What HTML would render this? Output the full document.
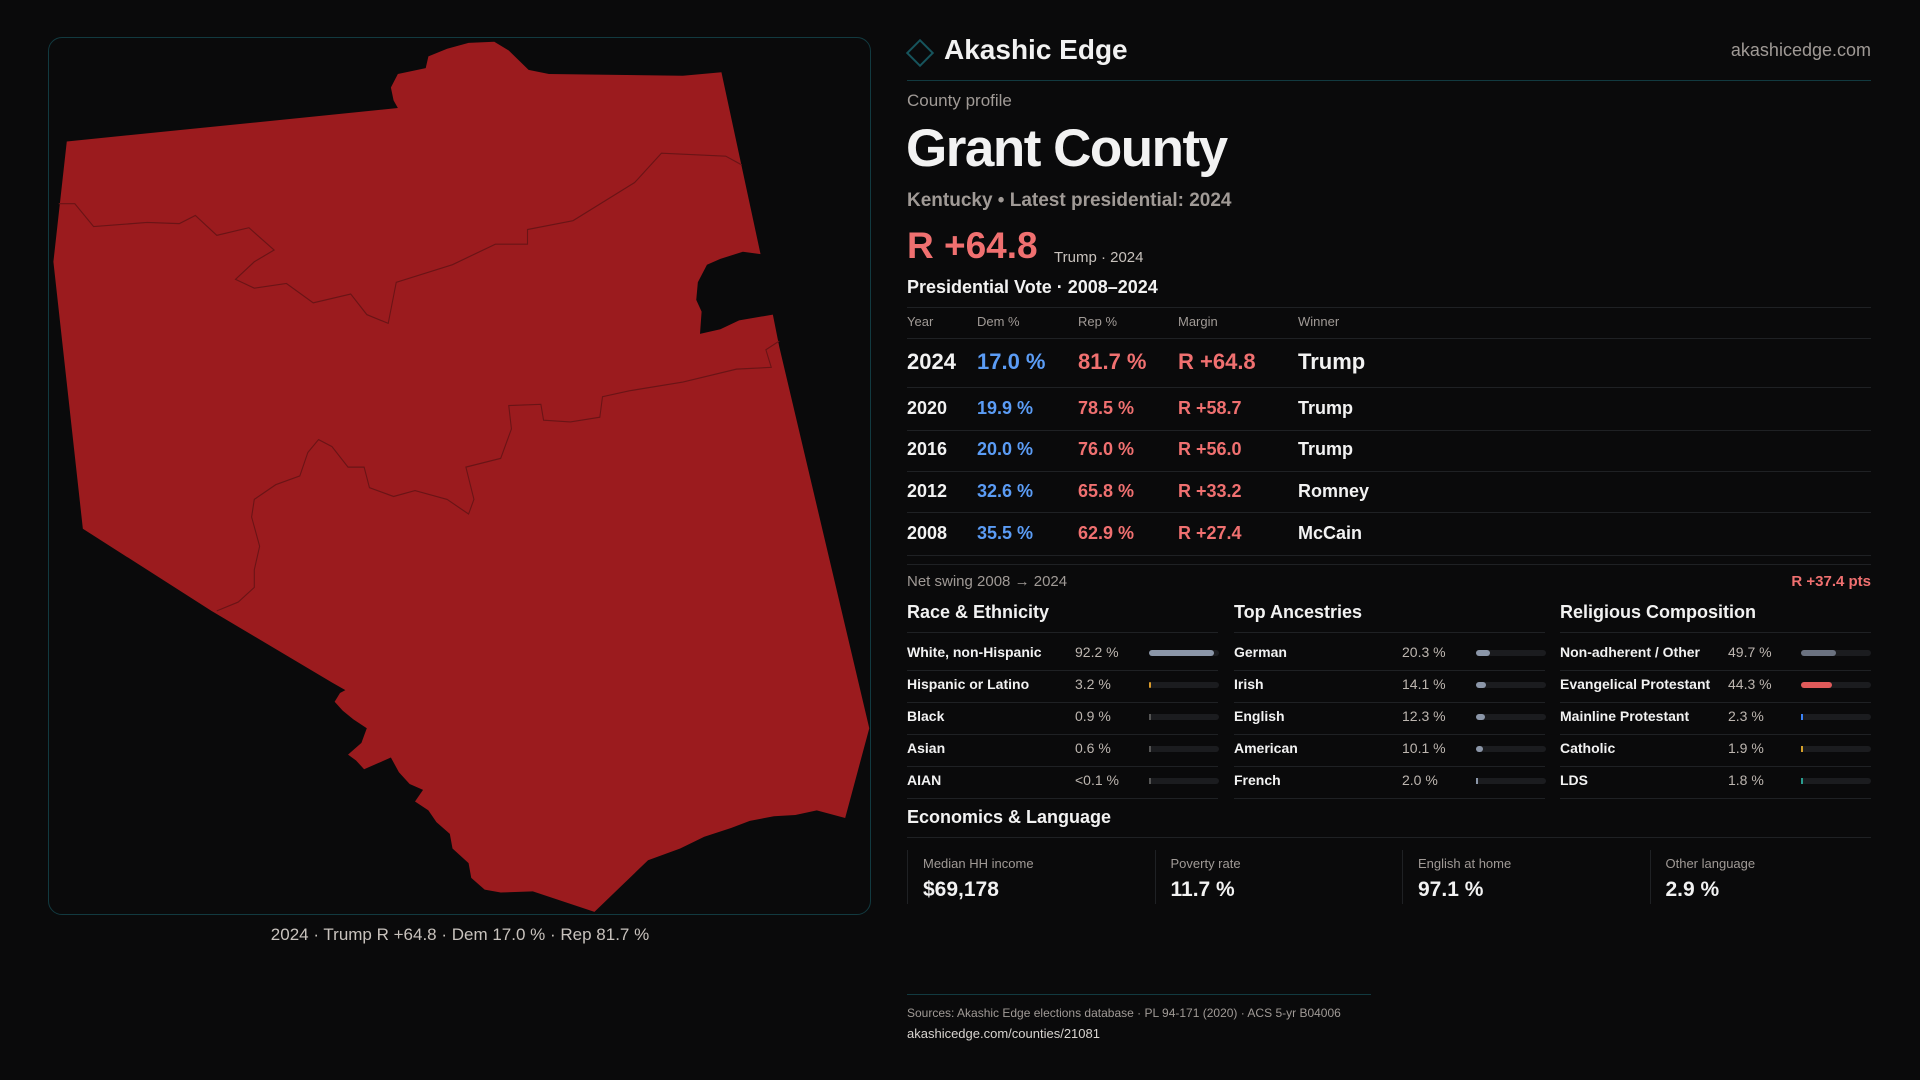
<!DOCTYPE html>
<html><head><meta charset="utf-8"><style>
*{margin:0;padding:0;box-sizing:border-box}
body{width:1920px;height:1080px;background:#0a0a0b;color:#f2f2f2;font-family:"Liberation Sans",sans-serif;position:relative;overflow:hidden}
.a{position:absolute;white-space:nowrap}
.hl{position:absolute;height:1px;background:#1f2124}
.blue{color:#5b9cf5}.red{color:#f07070}.mut{color:#a09a96}
.bar-track{position:absolute;height:6px;border-radius:3px;background:#1b1c1f}
.bar-fill{position:absolute;left:0;top:0;height:6px;border-radius:3px}
</style></head><body>
<div class="a" style="left:48px;top:37px;width:823px;height:878px;border:1px solid #123a40;border-radius:14px"></div>
<svg style="position:absolute;left:40px;top:30px" width="840" height="920" viewBox="0 0 1568 1568" preserveAspectRatio="none">
<polygon fill="#9b1b1e" points="50,190 668,133 660,120 655,98 668,75 720,65 725,45 760,32 800,22 848,20 875,35 912,68 950,75 1200,78 1272,72 1345,382 1312,378 1270,390 1245,400 1228,430 1225,460 1235,480 1232,518 1270,510 1305,495 1368,485 1380,540 1548,1190 1503,1343 1450,1330 1410,1338 1370,1340 1325,1348 1290,1360 1240,1375 1195,1395 1135,1415 1035,1503 920,1468 860,1470 830,1465 805,1445 800,1420 770,1395 765,1370 740,1350 725,1330 700,1315 715,1295 690,1285 670,1265 655,1240 630,1250 605,1260 590,1245 575,1235 600,1215 610,1190 585,1175 565,1160 550,1145 560,1130 570,1125 545,1112 320,990 80,850 25,395"/>
<polyline fill="none" stroke="#6a1416" stroke-width="2" points="35,296 65,296 100,335 200,328 260,330 290,316 330,350 390,337 437,375 400,395 365,425 400,440 460,432 510,465 580,450 610,485 650,500 665,430 770,400 850,365 910,365 910,340 995,325 1110,260 1160,210 1280,215 1310,230"/>
<polyline fill="none" stroke="#6a1416" stroke-width="2" points="1380,530 1355,545 1365,575 1300,578 1200,600 1100,615 1050,625 1045,660 990,668 940,665 935,638 875,640 880,680 860,730 795,745 810,800 800,825 760,800 700,785 660,795 615,780 605,745 575,745 545,710 520,698 500,720 485,760 440,775 400,800 395,830 410,880 400,920 400,950 370,975 330,990"/>
</svg>
<div class="a" style="left:0;width:920px;text-align:center;top:925px;font-size:17px;color:#c8c2bd">2024 · Trump R +64.8 · Dem 17.0 % · Rep 81.7 %</div>

<div class="a" style="left:910px;top:43px;width:20px;height:20px;border:2px solid #16545c;transform:rotate(45deg)"></div>
<div class="a" style="left:944px;top:34px;font-size:28px;font-weight:bold">Akashic Edge</div>
<div class="a mut" style="right:49px;top:40px;font-size:18px">akashicedge.com</div>
<div class="a" style="left:907px;width:964px;top:80px;height:1px;background:#123a40"></div>
<div class="a mut" style="left:907px;top:91px;font-size:17px">County profile</div>
<div class="a" style="left:906px;top:118px;font-size:53px;font-weight:bold;letter-spacing:-1.5px">Grant County</div>
<div class="a mut" style="left:907px;top:190px;font-size:19px;font-weight:bold">Kentucky • Latest presidential: 2024</div>
<div class="a red" style="left:907px;top:225px;font-size:37px;font-weight:bold">R +64.8</div>
<div class="a mut" style="left:1054px;top:249px;font-size:15px;color:#c8c2bd">Trump · 2024</div>
<div class="a" style="left:907px;top:277px;font-size:18px;font-weight:bold">Presidential Vote · 2008–2024</div>
<div id="tbl"></div>
<div class="a mut" style="left:907px;top:573px;font-size:15px">Net swing 2008 → 2024</div>
<div class="a red" style="right:49px;top:573px;font-size:15px;font-weight:bold">R +37.4 pts</div>
<div id="demo"></div>
<div class="a" style="left:907px;top:807px;font-size:18px;font-weight:bold">Economics &amp; Language</div>
<div class="hl" style="left:907px;width:964px;top:837px"></div>
<div id="stats"></div>
<div class="a" style="left:907px;width:464px;top:994px;height:1px;background:#123a40"></div>
<div class="a mut" style="left:907px;top:1006px;font-size:12px">Sources: Akashic Edge elections database · PL 94-171 (2020) · ACS 5-yr B04006</div>
<div class="a" style="left:907px;top:1026px;font-size:13px;color:#d8d4d0">akashicedge.com/counties/21081</div>
<script>
const years=["2024","2020","2016","2012","2008"];
const demPct=[17.0,19.9,20.0,32.6,35.5];
const repPct=[81.7,78.5,76.0,65.8,62.9];
const margins=[64.8,58.7,56.0,33.2,27.4];
const winners=["Trump","Trump","Trump","Romney","McCain"];
const raceLabels=["White, non-Hispanic","Hispanic or Latino","Black","Asian","AIAN"];
const raceVals=[92.2,3.2,0.9,0.6,0.05];
const raceText=["92.2 %","3.2 %","0.9 %","0.6 %","<0.1 %"];
const ancLabels=["German","Irish","English","American","French"];
const ancVals=[20.3,14.1,12.3,10.1,2.0];
const relLabels=["Non-adherent / Other","Evangelical Protestant","Mainline Protestant","Catholic","LDS"];
const relVals=[49.7,44.3,2.3,1.9,1.8];
const statLabels=["Median HH income","Poverty rate","English at home","Other language"];
const statVals=["$69,178","11.7 %","97.1 %","2.9 %"];

const T=document.getElementById('tbl');
function add(parent,html,cls,style){const d=document.createElement('div');d.className=cls;d.style.cssText=style;d.innerHTML=html;parent.appendChild(d);return d;}
const cols=[907,977,1078,1178,1298];
["Year","Dem %","Rep %","Margin","Winner"].forEach((h,i)=>{const d=add(T,h,'a mut',`left:${cols[i]}px;top:314px;font-size:13px`);

});
[307,338].forEach(y=>add(T,'','hl',`left:907px;width:964px;top:${y}px`));
const rowY=[349,396,437,479,521],lineY=[387,430,471,512,555];
years.forEach((yr,i)=>{const fs=i==0?22:18,y=rowY[i]+(i==0?0:2),fw='bold';
const cells=[[yr,''],[demPct[i].toFixed(1)+' %','blue'],[repPct[i].toFixed(1)+' %','red'],['R +'+margins[i].toFixed(1),'red'],[winners[i],'']];
cells.forEach((c,j)=>{const d=add(T,c[0],'a '+c[1],`left:${cols[j]}px;top:${y}px;font-size:${fs}px;font-weight:${fw}`);

});
add(T,'','hl',`left:907px;width:964px;top:${lineY[i]}px`);});
add(T,'','hl',`left:907px;width:964px;top:564px`);

const D=document.getElementById('demo');
const groups=[["Race & Ethnicity",raceLabels,raceVals,raceText,907,1075,1149,["#8b96a8","#d99a2b","#555","#555","#555"]],
["Top Ancestries",ancLabels,ancVals,null,1234,1402,1476,["#8b96a8","#8b96a8","#8b96a8","#8b96a8","#8b96a8"]],
["Religious Composition",relLabels,relVals,null,1560,1728,1801,["#6b7280","#e05a5a","#3b82f6","#d4a02a","#2a9d8f"]]];
groups.forEach(g=>{const [title,labs,vals,txt,x,vx,bx,colors]=g;
const t=add(D,title.replace('&','&amp;'),'a',`left:${x}px;top:602px;font-size:18px;font-weight:bold`);


add(D,'','hl',`left:${x}px;width:311px;top:632px`);
labs.forEach((l,i)=>{const y=644+i*32;
const a=add(D,l,'a',`left:${x}px;top:${y}px;font-size:14px;font-weight:bold`);


const v=add(D,txt?txt[i]:vals[i].toFixed(1)+' %','a',`left:${vx}px;top:${y}px;font-size:14px;color:#bdb6b0`);


const tr=add(D,'','bar-track',`left:${bx}px;top:${y+6}px;width:70px`);


const f=document.createElement('div');f.className='bar-fill';f.style.width=Math.max(2,vals[i]/100*70)+'px';f.style.background=colors[i];
if(vals[i]<3){f.style.borderRadius='0';}


tr.appendChild(f);
add(D,'','hl',`left:${x}px;width:311px;top:${y+26}px`);});});

const S=document.getElementById('stats');
statLabels.forEach((l,i)=>{const x=907+i*247.5;
add(S,'','a',`left:${x}px;top:850px;width:1px;height:54px;background:#1f2124`);
const a=add(S,l,'a mut',`left:${x+16}px;top:856px;font-size:13px`);


const b=add(S,statVals[i],'a',`left:${x+16}px;top:878px;font-size:21px;font-weight:bold`);

});
</script>
</body></html>
